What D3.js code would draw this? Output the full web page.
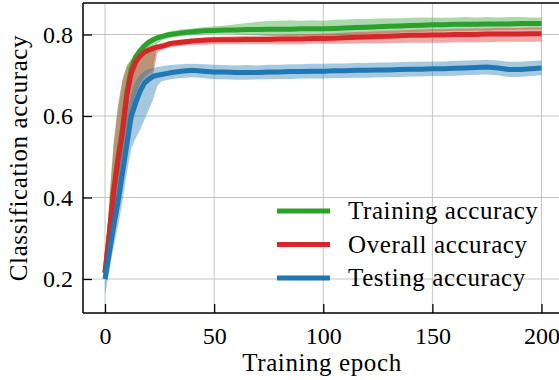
<!DOCTYPE html>
<html><head><meta charset="utf-8">
<script src="https://cdn.jsdelivr.net/npm/d3@7"></script>
<style>body{margin:0;background:#fff}svg{display:block}text{font-family:"Liberation Serif","Times New Roman",serif;fill:#000}</style>
</head><body><svg id="c" width="559" height="380"></svg>
<script>
const epochs = [0,2,4,6,8,10,12,14,16,18,20,22,24,26,28,30,35,40,45,50,55,60,65,70,75,80,85,90,95,100,105,110,115,120,125,130,135,140,145,150,155,160,165,170,175,180,185,190,195,200];

const trainMean = [0.215,0.315,0.42,0.50,0.57,0.66,0.715,0.745,0.76,0.772,0.781,0.787,0.792,0.795,0.798,0.80,0.804,0.807,0.809,0.81,0.811,0.811,0.812,0.812,0.813,0.813,0.813,0.814,0.814,0.814,0.815,0.816,0.817,0.818,0.819,0.82,0.821,0.822,0.823,0.824,0.824,0.825,0.825,0.825,0.826,0.826,0.826,0.827,0.827,0.827];
const trainUpper = [0.225,0.40,0.54,0.63,0.69,0.725,0.74,0.752,0.762,0.772,0.782,0.79,0.797,0.802,0.805,0.808,0.812,0.815,0.818,0.82,0.822,0.825,0.828,0.831,0.833,0.834,0.835,0.834,0.835,0.834,0.836,0.837,0.838,0.838,0.839,0.84,0.84,0.841,0.842,0.842,0.841,0.842,0.843,0.842,0.843,0.842,0.843,0.843,0.842,0.842];
const trainLower = [0.205,0.26,0.33,0.40,0.47,0.55,0.61,0.65,0.68,0.695,0.705,0.712,0.778,0.785,0.789,0.792,0.796,0.798,0.80,0.801,0.801,0.80,0.799,0.798,0.797,0.797,0.796,0.797,0.796,0.797,0.798,0.799,0.80,0.801,0.802,0.803,0.804,0.806,0.807,0.808,0.808,0.809,0.809,0.81,0.81,0.811,0.811,0.812,0.812,0.812];

const overallMean = [0.215,0.31,0.415,0.49,0.56,0.65,0.705,0.732,0.747,0.756,0.762,0.766,0.769,0.771,0.774,0.778,0.781,0.784,0.786,0.787,0.787,0.787,0.788,0.788,0.788,0.789,0.789,0.789,0.79,0.79,0.791,0.792,0.793,0.794,0.795,0.796,0.797,0.798,0.798,0.799,0.799,0.80,0.80,0.80,0.801,0.801,0.801,0.801,0.802,0.802];
const overallUpper = [0.225,0.39,0.53,0.62,0.685,0.72,0.738,0.75,0.76,0.766,0.77,0.773,0.776,0.779,0.782,0.784,0.788,0.79,0.792,0.794,0.795,0.796,0.797,0.797,0.798,0.799,0.80,0.80,0.801,0.802,0.803,0.805,0.806,0.807,0.808,0.809,0.81,0.811,0.812,0.813,0.813,0.814,0.814,0.815,0.815,0.816,0.816,0.816,0.817,0.817];
const overallLower = [0.20,0.25,0.31,0.37,0.44,0.51,0.57,0.61,0.645,0.67,0.69,0.70,0.755,0.762,0.766,0.769,0.772,0.774,0.775,0.776,0.776,0.776,0.776,0.776,0.776,0.776,0.776,0.776,0.777,0.777,0.777,0.777,0.778,0.778,0.778,0.779,0.779,0.78,0.78,0.78,0.78,0.781,0.781,0.781,0.781,0.782,0.782,0.782,0.782,0.782];

const testMean = [0.20,0.265,0.33,0.39,0.46,0.53,0.60,0.632,0.66,0.68,0.69,0.697,0.70,0.702,0.704,0.706,0.71,0.712,0.71,0.708,0.708,0.707,0.707,0.707,0.708,0.708,0.709,0.709,0.71,0.71,0.711,0.711,0.712,0.712,0.713,0.713,0.714,0.715,0.715,0.716,0.716,0.717,0.718,0.719,0.72,0.718,0.714,0.714,0.716,0.718];
const testUpper = [0.215,0.30,0.38,0.45,0.53,0.60,0.655,0.685,0.70,0.71,0.715,0.718,0.72,0.722,0.724,0.725,0.727,0.728,0.727,0.726,0.725,0.724,0.725,0.724,0.726,0.726,0.727,0.727,0.728,0.728,0.729,0.729,0.73,0.73,0.731,0.731,0.732,0.733,0.733,0.734,0.734,0.735,0.736,0.737,0.738,0.736,0.733,0.733,0.735,0.736];
const testLower = [0.16,0.22,0.28,0.33,0.39,0.46,0.52,0.545,0.565,0.59,0.615,0.64,0.675,0.685,0.688,0.69,0.693,0.695,0.693,0.69,0.69,0.689,0.689,0.69,0.69,0.691,0.691,0.692,0.692,0.692,0.693,0.693,0.694,0.694,0.695,0.695,0.696,0.697,0.697,0.698,0.698,0.699,0.70,0.701,0.702,0.70,0.696,0.696,0.698,0.70];

const xTicks = [0,50,100,150,200];
const yTicks = [0.2,0.4,0.6,0.8];
const seriesNames = ["Training accuracy","Overall accuracy","Testing accuracy"];
const seriesColors = ["#2ca02c","#d62728","#1f77b4"];

const series = [
  {name: seriesNames[0], color: seriesColors[0], mean: trainMean, lo: trainLower, hi: trainUpper},
  {name: seriesNames[1], color: seriesColors[1], mean: overallMean, lo: overallLower, hi: overallUpper},
  {name: seriesNames[2], color: seriesColors[2], mean: testMean, lo: testLower, hi: testUpper}
];

const FONT = "'Liberation Serif','Times New Roman',serif";
const FS = "25px";
const LS = "0.6px";

const svg = d3.select("#c");
const L = 83, T = 3, B = 313, R = 563;
const x = d3.scaleLinear().domain([0,200]).range([105,541.5]);
const y = d3.scaleLinear().domain([0.2,0.8]).range([279,34.5]);

svg.append("defs").append("clipPath").attr("id","clip")
  .append("rect").attr("x",L).attr("y",T).attr("width",R-L).attr("height",B-T);

// grid
const grid = svg.append("g").attr("stroke","#c4c4c4").attr("stroke-width",1);
grid.selectAll(".gx").data(xTicks).join("line")
  .attr("x1",d=>x(d)).attr("x2",d=>x(d)).attr("y1",T).attr("y2",B);
grid.selectAll(".gy").data(yTicks).join("line")
  .attr("x1",L).attr("x2",R).attr("y1",d=>y(d)).attr("y2",d=>y(d));

const plot = svg.append("g").attr("clip-path","url(#clip)");
const area = d3.area().x((d,i)=>x(epochs[i])).y0(d=>y(d[0])).y1(d=>y(d[1]));
const line = d3.line().x((d,i)=>x(epochs[i])).y(d=>y(d));

series.forEach(s=>{
  plot.append("path").datum(s.lo.map((v,i)=>[v,s.hi[i]]))
    .attr("d",area).attr("fill",s.color).attr("fill-opacity",0.4).attr("stroke","none");
});
series.forEach(s=>{
  plot.append("path").datum(s.mean).attr("d",line)
    .attr("fill","none").attr("stroke",s.color).attr("stroke-width",5).attr("stroke-linejoin","round");
});

// axes (ticks inward)
const xAxis = d3.axisBottom(x).tickValues(xTicks).tickSize(-9).tickPadding(14).tickFormat(d3.format("d"));
const yAxis = d3.axisLeft(y).tickValues(yTicks).tickSize(-9).tickPadding(10).tickFormat(d3.format(".1f"));
const gx = svg.append("g").attr("transform",`translate(0,${B})`).call(xAxis);
const gy = svg.append("g").attr("transform",`translate(${L},0)`).call(yAxis);
[gx,gy].forEach(g=>{
  g.select(".domain").remove();
  g.selectAll(".tick line").attr("stroke","#000").attr("stroke-width",1.3);
  g.selectAll(".tick text").style("font-family",FONT).style("font-size","24px").attr("fill","#000");
});
gx.selectAll(".tick text").attr("dy","0.71em");
// spines
svg.append("line").attr("x1",L).attr("x2",L).attr("y1",T).attr("y2",B).attr("stroke","#000").attr("stroke-width",1.5);
svg.append("line").attr("x1",L).attr("x2",R).attr("y1",B).attr("y2",B).attr("stroke","#000").attr("stroke-width",1.5);
svg.append("line").attr("x1",L).attr("x2",R).attr("y1",T).attr("y2",T).attr("stroke","#000").attr("stroke-width",1.5);

// labels
svg.append("text").attr("x",322).attr("y",371).attr("text-anchor","middle")
  .style("font-family",FONT).style("font-size",FS).style("letter-spacing",LS).text("Training epoch");
svg.append("text").attr("transform","translate(27,158) rotate(-90)").attr("text-anchor","middle")
  .style("font-family",FONT).style("font-size",FS).style("letter-spacing",LS).text("Classification accuracy");

// legend
const leg = svg.append("g");
series.forEach((s,i)=>{
  const ly = 211 + i*33.5;
  leg.append("line").attr("x1",277).attr("x2",330).attr("y1",ly).attr("y2",ly).attr("stroke",s.color).attr("stroke-width",5);
  leg.append("text").attr("x",348).attr("y",ly+8)
    .style("font-family",FONT).style("font-size",FS).style("letter-spacing",LS).text(s.name);
});
</script></body></html>
